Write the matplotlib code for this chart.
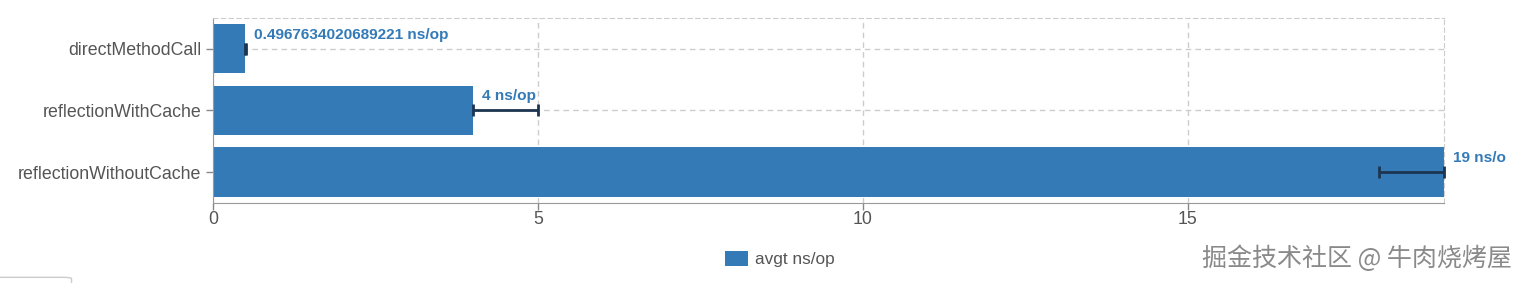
import matplotlib
matplotlib.use('Agg')
import matplotlib.pyplot as plt
from matplotlib.patches import FancyBboxPatch

plt.rcParams['font.family'] = ['Liberation Sans', 'DejaVu Sans']

# benchmark data
methods = ["directMethodCall", "reflectionWithCache", "reflectionWithoutCache"]
scores = [0.4967634020689221, 4.0, 18.94]
err_low = [0.0, 0.0, 1.0]
err_high = [0.01, 1.0, 0.0]
labels = ["0.4967634020689221 ns/op", "4 ns/op", "19 ns/o"]
xticks = [0, 5, 10, 15]

barColor = "#337ab7"
errColor = "#1c3550"
gridColor = "#cccccc"
textColor = "#555555"

fig = plt.figure(figsize=(15.22, 2.83), dpi=100)
ax = fig.add_axes([0.1400, 0.2827, 0.8088, 0.6537])

ypos = list(range(len(methods)))
ax.barh(ypos, scores, height=0.8, color=barColor, zorder=2, label="avgt ns/op")
ax.errorbar(scores, ypos, xerr=[err_low, err_high], fmt='none', ecolor=errColor,
            elinewidth=2, capsize=4, capthick=2, zorder=3, clip_on=False)

for i in ypos:
    ax.text(scores[i] + 0.14, i - 0.23, labels[i], color=barColor, fontsize=11.1,
            fontweight='bold', va='center', ha='left', clip_on=False)

ax.set_xlim(0, max(scores))
ax.set_ylim(2.5, -0.5)
ax.set_yticks(ypos)
ax.set_yticklabels(methods)
ax.set_xticks(xticks)
ax.tick_params(axis='both', colors='#888888', labelcolor=textColor, labelsize=12.8, length=5, width=1)
ax.tick_params(axis='x', pad=1)

ax.grid(True, axis='both', linestyle=(0, (4, 3)), color=gridColor, linewidth=1, zorder=0)
for s in ['top', 'right']:
    ax.spines[s].set_visible(True)
    ax.spines[s].set_color(gridColor)
    ax.spines[s].set_linestyle((0, (4, 3)))
ax.spines['left'].set_color('#999999')
ax.spines['bottom'].set_color('#999999')

fig.legend(loc='center', bbox_to_anchor=(780 / 1522, 1 - 259 / 283), frameon=False,
           fontsize=12.4, handlelength=1.3, handleheight=1.0, handletextpad=0.4,
           labelcolor=textColor)

fig.text(1512 / 1522, 1 - 259 / 283, "掘金技术社区 @ 牛肉烧烤屋", ha='right', va='center',
         fontsize=18, color='#8a8a8a', family=['Noto Sans CJK SC', 'DejaVu Sans'])

box = FancyBboxPatch((-0.01, -0.05), 0.057, 0.07, boxstyle="round,pad=0,rounding_size=0.005",
                     transform=fig.transFigure, facecolor='white', edgecolor='#cccccc',
                     linewidth=1)
fig.patches.append(box)

fig.savefig("out.png", dpi=100)
